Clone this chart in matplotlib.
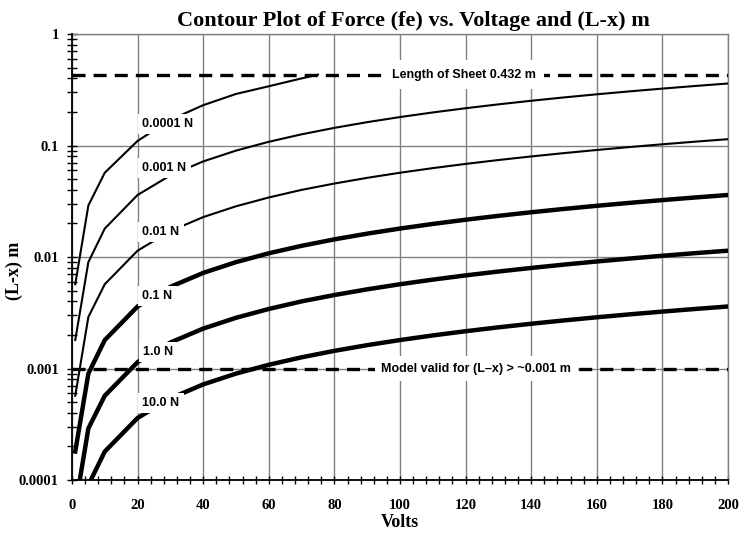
import matplotlib
matplotlib.use("Agg")
import matplotlib.pyplot as plt
from matplotlib.ticker import FixedLocator, NullFormatter, LogLocator

# ---- data ----
volts_short = [1, 5, 10, 20, 30, 40, 50, 60, 70, 75]
volts = [1, 5, 10, 20, 30, 40, 50, 60, 70, 80, 90, 100, 110, 120, 130, 140,
         150, 160, 170, 180, 190, 200]

lx_0p0001N = [0.0057, 0.029, 0.057, 0.11, 0.17, 0.23, 0.29, 0.34, 0.40, 0.432]
lx_0p001N = [0.0018, 0.009, 0.018, 0.036, 0.054, 0.072, 0.090, 0.108, 0.126, 0.144,
             0.162, 0.180, 0.198, 0.216, 0.234, 0.252, 0.270, 0.288, 0.306, 0.324,
             0.342, 0.360]
lx_0p01N = [0.00057, 0.0029, 0.0057, 0.0114, 0.0171, 0.0228, 0.0285, 0.0342, 0.040,
            0.0456, 0.0513, 0.057, 0.0627, 0.0684, 0.0741, 0.0798, 0.0855, 0.0912,
            0.0969, 0.1026, 0.1083, 0.114]
lx_0p1N = [0.00018, 0.0009, 0.0018, 0.0036, 0.0054, 0.0072, 0.009, 0.0108, 0.0126,
           0.0144, 0.0162, 0.018, 0.0198, 0.0216, 0.0234, 0.0252, 0.027, 0.0288,
           0.0306, 0.0324, 0.0342, 0.036]
lx_1N = [0.000057, 0.00029, 0.00057, 0.00114, 0.00171, 0.00228, 0.00285, 0.00342,
         0.0040, 0.00456, 0.00513, 0.0057, 0.00627, 0.00684, 0.00741, 0.00798,
         0.00855, 0.00912, 0.00969, 0.01026, 0.01083, 0.0114]
lx_10N = [0.000018, 0.00009, 0.00018, 0.00036, 0.00054, 0.00072, 0.0009, 0.00108,
          0.00126, 0.00144, 0.00162, 0.0018, 0.00198, 0.00216, 0.00234, 0.00252,
          0.0027, 0.00288, 0.00306, 0.00324, 0.00342, 0.0036]

curve_labels = ["0.0001 N", "0.001 N", "0.01 N", "0.1 N", "1.0 N", "10.0 N"]
label_x = [21.5, 21.5, 21.5, 21.5, 21.7, 21.5]
label_y = [0.156, 0.0628, 0.0168, 0.00447, 0.0014, 0.00049]

sheet_length = 0.432
model_limit = 0.001
sheet_text = "Length of Sheet 0.432 m"
model_text = "Model valid for (L\u2013x) > ~0.001 m"

y_ticks = [0.0001, 0.001, 0.01, 0.1, 1]
y_ticklabels = ["0.0001", "0.001", "0.01", "0.1", "1"]
x_ticks = [0, 20, 40, 60, 80, 100, 120, 140, 160, 180, 200]

plt.rcParams['lines.scale_dashes'] = False

fig = plt.figure(figsize=(7.45, 5.35), dpi=100)
ax = fig.add_axes([0.0966, 0.1028, 0.8806, 0.8336])
ax.set_yscale('log')
ax.set_xlim(0, 200)
ax.set_ylim(0.0001, 1)

ax.grid(True, which='major', color='#808080', linewidth=1.0, zorder=0)

thin = 1.5
thick = 3.2
series = [(volts_short, lx_0p0001N, thin), (volts, lx_0p001N, thin),
          (volts, lx_0p01N, thin), (volts, lx_0p1N, thick),
          (volts, lx_1N, thick), (volts, lx_10N, thick)]
for xs, ys, lw in series:
    ax.plot(xs, ys, color='black', linewidth=lw, solid_joinstyle='miter',
            zorder=3, clip_on=True)

dash = (0, (9.4, 5.8))
ax.axhline(sheet_length, color='black', linewidth=2.4, linestyle=dash, zorder=3)
ax.axhline(model_limit, color='black', linewidth=2.4, linestyle=dash, zorder=3)

lab_font = dict(family='Liberation Sans', fontweight='bold', fontsize=9)
for t, x, y in zip(curve_labels, label_x, label_y):
    ax.text(x, y, t, ha='left', va='center', zorder=5,
            bbox=dict(facecolor='white', edgecolor='none', pad=3.0), **lab_font)

ax.text(119.5, sheet_length, sheet_text, ha='center', va='center', zorder=5,
        bbox=dict(facecolor='white', edgecolor='none', pad=6.0), **lab_font)
ax.text(123.3, model_limit, model_text, ha='center', va='center', zorder=5,
        bbox=dict(facecolor='white', edgecolor='none', pad=4.5), **lab_font)

# ticks
ax.xaxis.set_major_locator(FixedLocator(x_ticks))
ax.xaxis.set_minor_locator(FixedLocator(list(range(0, 201, 4))))
ax.yaxis.set_major_locator(FixedLocator(y_ticks))
ax.yaxis.set_minor_locator(LogLocator(base=10, subs=range(2, 10), numticks=20))
ax.yaxis.set_minor_formatter(NullFormatter())
ax.set_yticklabels(y_ticklabels)
ax.tick_params(axis='both', which='both', direction='inout', color='black', width=1.0)
ax.tick_params(axis='y', which='both', length=7)
ax.tick_params(axis='x', which='both', length=6)
ax.tick_params(axis='y', which='major', pad=6)
ax.tick_params(axis='x', which='major', pad=11)

for lbl in ax.get_xticklabels() + ax.get_yticklabels():
    lbl.set_fontfamily('Liberation Serif')
    lbl.set_fontweight('bold')
    lbl.set_fontsize(10.5)

for s in ['top', 'right']:
    ax.spines[s].set_color('#808080')
    ax.spines[s].set_linewidth(1.0)
for s in ['left', 'bottom']:
    ax.spines[s].set_color('black')
    ax.spines[s].set_linewidth(1.3)
    ax.spines[s].set_zorder(6)

ax.set_xlabel("Volts", fontfamily='Liberation Serif', fontweight='bold',
              fontsize=13, labelpad=1)
ax.set_ylabel("(L-x) m", fontfamily='Liberation Serif', fontweight='bold',
              fontsize=13)
ax.yaxis.set_label_coords(-0.075, 0.47)
ax.set_title("Contour Plot of Force (fe) vs. Voltage and (L-x) m",
             fontfamily='Liberation Serif', fontweight='bold', fontsize=16, pad=6,
             x=0.521)

fig.savefig("out.png", dpi=100)
